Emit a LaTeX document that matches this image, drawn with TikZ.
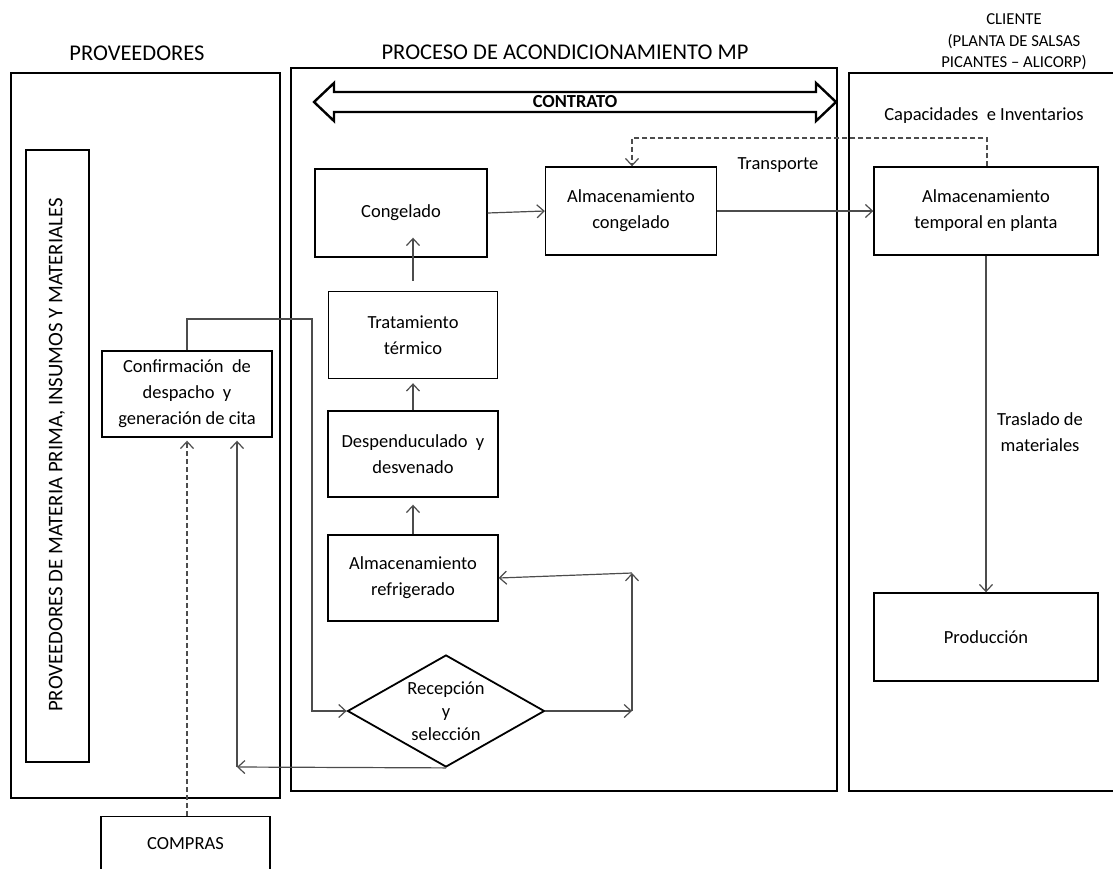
\documentclass[tikz,border=0pt]{standalone}
\usepackage{fontspec}
\setmainfont{Carlito}
\usetikzlibrary{arrows.meta,shapes.geometric,calc}

\begin{document}
\begin{tikzpicture}[x=1pt,y=-1pt,
  container/.style={draw=black,line width=2.4pt},
  stepbox/.style={draw=black,line width=1.4pt,align=center,inner sep=2pt,
    font=\fontsize{18.5}{26}\selectfont},
  title/.style={align=center,font=\fontsize{22.5}{24}\selectfont},
  lbl/.style={align=center,font=\fontsize{18.5}{26}\selectfont},
  flow/.style={draw=black!70,line width=1.2pt,-{Straight Barb[length=7pt,width=13pt,line width=1.2pt]}},
  info/.style={flow,dash pattern=on 5pt off 3pt},
]
\useasboundingbox (0,0) rectangle (1113,868);

% ---- swimlane frames ----
\draw[container] (11,73) rectangle (280,798);
\draw[container] (291,68) rectangle (837,791);
\draw[container] (1120,73) -- (849,73) -- (849,791) -- (1120,791);
\draw[line width=1.4pt] (26,150) rectangle (89,762);

% ---- lane titles ----
\node[title] (tprov) at (137,53) {PROVEEDORES};
\node[title] (tproc) at (565,52) {PROCESO DE ACONDICIONAMIENTO MP};
\node[align=center,font=\fontsize{16.7}{21.5}\selectfont] (tcli) at (1014,42)
  {CLIENTE\\(PLANTA DE SALSAS\\PICANTES -- ALICORP)};
\node[align=center,font=\fontsize{20.8}{24}\selectfont,rotate=90] (vprov) at (57,455)
  {PROVEEDORES DE MATERIA PRIMA, INSUMOS Y MATERIALES};

% ---- contract double arrow ----
\draw[line width=2.4pt,line join=miter]
  (314,102) -- (334,83) -- (334,92) -- (816,92) -- (816,83) -- (836,102)
  -- (816,121) -- (816,112) -- (334,112) -- (334,121) -- cycle;
\node[font=\fontsize{18.4}{20}\selectfont\bfseries] (contrato) at (575,102) {CONTRATO};

% ---- process steps ----
\node[stepbox,minimum width=172pt,minimum height=88pt] (cong) at (401,213) {Congelado};
\node[stepbox,minimum width=171pt,minimum height=88pt] (almc) at (631,211) {Almacenamiento\\congelado};
\node[stepbox,minimum width=169pt,minimum height=87pt] (trat) at (413,335) {Tratamiento\\térmico};
\node[stepbox,minimum width=170pt,minimum height=86pt] (desp) at (413,454) {Despenduculado\ \ y\\desvenado};
\node[stepbox,minimum width=170pt,minimum height=86pt] (refr) at (413,578) {Almacenamiento\\refrigerado};
\node[draw=black,line width=1.8pt,diamond,minimum width=197pt,minimum height=112pt,inner sep=0pt,
  label={[lbl,font=\fontsize{18.5}{23}\selectfont]center:Recepción\\y\\selección}] (rec) at (446,711) {};

\node[stepbox,minimum width=170pt,minimum height=86pt] (conf) at (187,394)
  {Confirmación\ \ de\\despacho\ \ y\\generación\ de\ cita};
\node[stepbox,minimum width=169pt,minimum height=54pt,anchor=north] (comp) at (185.5,816) {COMPRAS};

\node[stepbox,minimum width=224pt,minimum height=88pt] (almt) at (986,211) {Almacenamiento\\temporal en planta};
\node[stepbox,minimum width=224pt,minimum height=88pt] (prod) at (986,637) {Producción};

% ---- connector labels ----
\node[lbl] (ltrans) at (778,165) {Transporte};
\node[lbl] (lcap) at (984,116) {Capacidades\ \ e\ Inventarios};
\node[lbl] (ltras) at (1040,432) {Traslado\ de\\materiales};

% ---- bend points ----
\coordinate (r1) at (632,711);
\coordinate (r2) at (632,573);
\coordinate (b1) at (237,767);
\coordinate (c1) at (187,319);
\coordinate (c2) at (312,319);
\coordinate (c3) at (312,711);
\coordinate (d1) at (987,138);
\coordinate (d2) at (632,138);

% ---- material flow ----
\draw[flow,shorten <=10pt,shorten >=-20pt] (trat.north) -- (trat.north |- cong.south);
\draw[flow,shorten >=4pt] (desp.north) -- (trat.south);
\draw[flow,shorten >=7pt] (refr.north) -- (desp.south);
\draw[flow] (cong.east) -- (almc.west);
\draw[flow] (almc.east) -- (almt.west);
\draw[flow] (almt.south) -- (prod.north);
\draw[flow] (rec.east) -- (r1);
\draw[flow] (r1) -- (r2);
\draw[flow] (r2) -- (refr.east);
\draw[flow] (rec.south) -- (b1);
\draw[flow,shorten >=3pt] (b1) -- (b1 |- conf.south);
\draw[flow] (conf.north) -- (c1) -- (c2) -- (c3) -- (rec.west);

% ---- information flow ----
\draw[info,shorten >=3pt] (comp.north -| conf.south) -- (conf.south);
\draw[info] (d1 |- almt.north) -- (d1) -- (d2) -- (d2 |- almc.north);
\end{tikzpicture}
\end{document}
